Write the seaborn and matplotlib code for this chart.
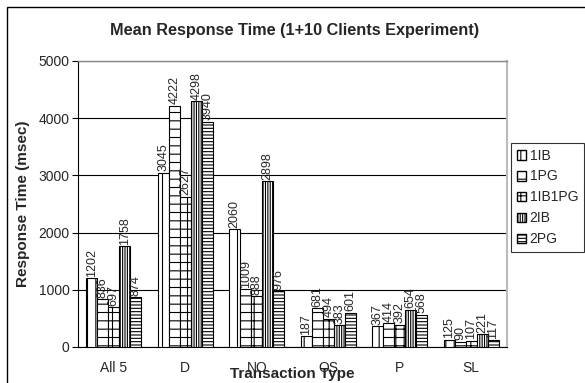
import matplotlib
matplotlib.use("Agg")
import matplotlib.pyplot as plt
import matplotlib.patches as mpatches
import seaborn as sns
import pandas as pd

categories = ["All 5", "D", "NO", "OS", "P", "SL"]
series = ["1IB", "1PG", "1IB1PG", "2IB", "2PG"]
v_1IB = [1202, 3045, 2060, 187, 367, 125]
v_1PG = [836, 4222, 1009, 681, 414, 90]
v_1IB1PG = [697, 2627, 888, 494, 392, 107]
v_2IB = [1758, 4298, 2898, 383, 654, 221]
v_2PG = [874, 3940, 976, 601, 568, 117]
yticks = [0, 1000, 2000, 3000, 4000, 5000]

values = {"1IB": v_1IB, "1PG": v_1PG, "1IB1PG": v_1IB1PG, "2IB": v_2IB, "2PG": v_2PG}
rows = []
for s in series:
    for c, v in zip(categories, values[s]):
        rows.append({"Transaction Type": c, "Series": s, "Value": v})
df = pd.DataFrame(rows)

sns.set_style("white")
plt.rcParams["font.family"] = ["Liberation Sans", "DejaVu Sans"]
plt.rcParams["hatch.linewidth"] = 0.8

fig = plt.figure(figsize=(5.85, 3.83), dpi=100)
ax = fig.add_axes([78 / 585, 1 - 347 / 383, (507 - 78) / 585, (347 - 61) / 383])

sns.barplot(data=df, x="Transaction Type", y="Value", hue="Series",
            order=categories, hue_order=series, width=0.77,
            palette=["white"] * 5, edgecolor="black",
            linewidth=0.8, legend=False, ax=ax, zorder=3)

hatches = ["||", "--", "++", "|||||||", "-----"]
for cont, h in zip(ax.containers, hatches):
    for bar in cont:
        bar.set_hatch(h)
        bar.set_facecolor("white")
        bar.set_edgecolor("black")
    ax.bar_label(cont, rotation=90, fontsize=9, padding=1)

ax.set_ylim(0, 5000)
ax.set_xlim(-0.5, 5.5)
ax.set_yticks(yticks)
ax.set_yticklabels([str(t) for t in yticks], fontsize=10)
ax.yaxis.grid(True, color="black", linewidth=0.8)
ax.set_axisbelow(True)

ax.set_xticks(range(len(categories)))
ax.set_xticklabels(categories, fontsize=10)
ax.set_xticks([i - 0.5 for i in range(len(categories) + 1)], minor=True)
ax.tick_params(axis="x", which="major", length=0, pad=10)
ax.tick_params(axis="x", which="minor", length=4, direction="out", color="black", width=0.8)
ax.tick_params(axis="y", length=4, direction="out", color="black", width=0.8, left=True, pad=2)

for sp in ["left", "bottom"]:
    ax.spines[sp].set_color("black")
    ax.spines[sp].set_linewidth(0.8)
ax.spines["top"].set_color("#888888")
ax.spines["top"].set_linewidth(1.0)
ax.spines["right"].set_color("#bbbbbb")
ax.spines["right"].set_linewidth(1.5)

ax.set_xlabel("Transaction Type", fontsize=11, fontweight="bold")
ax.xaxis.set_label_coords(0.5, -(374 - 347) / 286)
ax.xaxis.label.set_va("center")
ax.set_ylabel("Response Time (msec)", fontsize=11, fontweight="bold")
ax.yaxis.set_label_coords(-(78 - 23) / 429, 0.5)
ax.yaxis.label.set_va("center")

fig.text(295 / 585, 1 - 31 / 383, "Mean Response Time (1+10 Clients Experiment)",
         ha="center", va="center", fontsize=11.7, fontweight="bold")

handles = [mpatches.Patch(facecolor="white", edgecolor="black", hatch=h, label=s)
           for s, h in zip(series, hatches)]
leg = fig.legend(handles=handles, loc="upper left",
                 bbox_to_anchor=(511 / 585, 1 - 143 / 383), fontsize=10,
                 frameon=True, fancybox=False, handlelength=0.7, handleheight=0.7,
                 handletextpad=0.25, borderpad=0.4, labelspacing=0.5, borderaxespad=0)
leg.get_frame().set_edgecolor("black")
leg.get_frame().set_linewidth(0.8)

border = mpatches.Rectangle((7 / 585, -0.05), 1.0, 1.05 - 7 / 383, transform=fig.transFigure,
                            fill=False, edgecolor="black", linewidth=1.0)
fig.patches.append(border)

fig.savefig("out.png", dpi=100)
